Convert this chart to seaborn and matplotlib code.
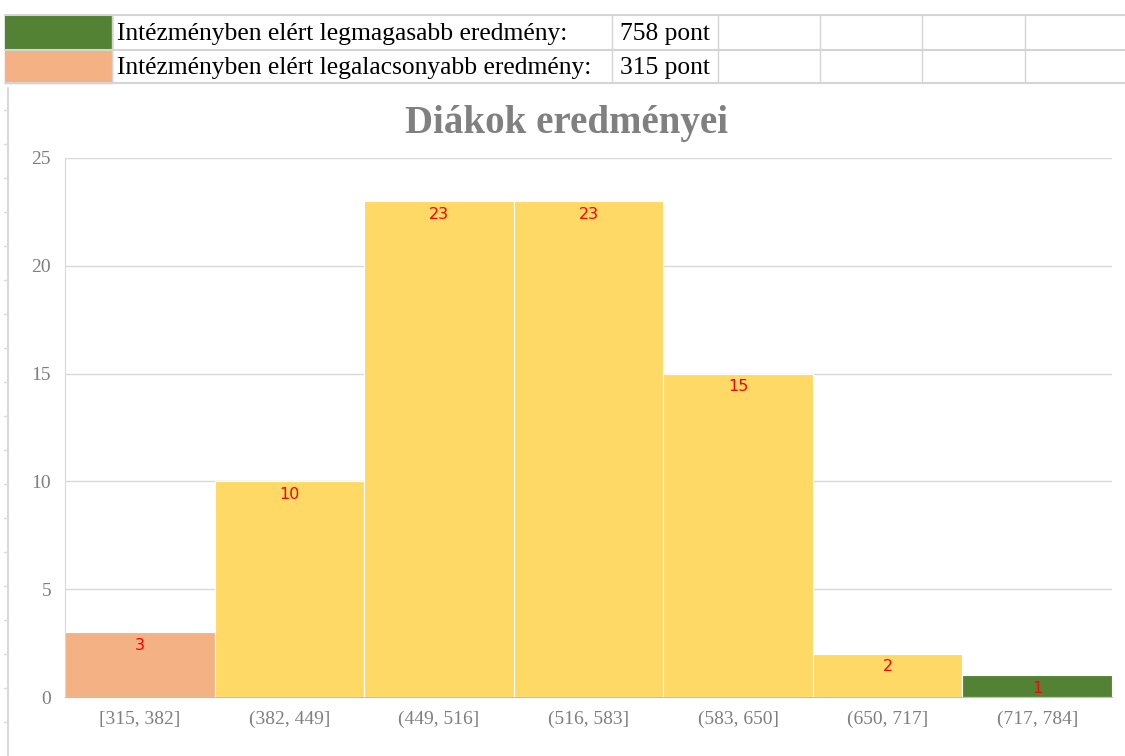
import matplotlib
matplotlib.use("Agg")
import matplotlib.pyplot as plt
import seaborn as sns
import pandas as pd

bins = ["[315, 382]", "(382, 449]", "(449, 516]", "(516, 583]",
        "(583, 650]", "(650, 717]", "(717, 784]"]
counts = [3, 10, 23, 23, 15, 2, 1]
kind = ["low", "mid", "mid", "mid", "mid", "mid", "high"]
row_labels = ["Intézményben elért legmagasabb eredmény:",
              "Intézményben elért legalacsonyabb eredmény:"]
row_values = ["758 pont", "315 pont"]

green = "#548235"
salmon = "#F4B183"
yellow = "#FFD966"
palette = {"low": salmon, "mid": yellow, "high": green}

df = pd.DataFrame({"bin": bins, "count": counts, "kind": kind})

sns.set_style("white")
plt.rcParams["font.family"] = ["Liberation Serif", "DejaVu Serif"]

W, H = 1125, 756
fig = plt.figure(figsize=(11.25, 7.56), dpi=100)

def fx(x):
    return x / W

def fy(y):
    return 1 - y / H

# spreadsheet part on top
grid_col = "#D4D4D4"
for y in [15, 50, 83]:
    fig.add_artist(plt.Line2D([fx(5), fx(1125)], [fy(y), fy(y)], color=grid_col, lw=1.5))
for x in [112, 612, 718, 820, 922, 1025]:
    fig.add_artist(plt.Line2D([fx(x), fx(x)], [fy(15), fy(83)], color=grid_col, lw=1))
fig.add_artist(plt.Rectangle((fx(5), fy(50)), fx(107), 35 / H, color=green))
fig.add_artist(plt.Rectangle((fx(5), fy(83)), fx(107), 32 / H, color=salmon))
for i, (lab, val) in enumerate(zip(row_labels, row_values)):
    yy = fy(34 + i * 34)
    fig.text(fx(117), yy, lab, fontsize=18.4, va="center", color="black")
    fig.text(fx(620), yy, val, fontsize=18.4, va="center", color="black")

# chart frame line at the left
fig.add_artist(plt.Line2D([fx(8), fx(8)], [fy(88), 0], color="#D9D9D9", lw=1.5))
for y in range(110, 756, 34):
    fig.add_artist(plt.Line2D([fx(4), fx(8)], [fy(y), fy(y)], color="#D9D9D9", lw=1))

ax = fig.add_axes([fx(65), fy(697), fx(1112 - 65), (697 - 158) / H])
sns.barplot(data=df, x="bin", y="count", hue="kind", palette=palette,
            width=1.0, dodge=False, legend=False, saturation=1,
            edgecolor="white", linewidth=0.8, ax=ax)

for i, c in enumerate(counts):
    ax.text(i, c - 0.25, str(c), ha="center", va="top", color="red",
            fontsize=11.5, family=["DejaVu Sans"])

ax.set_ylim(0, 25)
ax.set_xlim(-0.5, len(bins) - 0.5)
ax.set_yticks([0, 5, 10, 15, 20, 25])
ax.yaxis.grid(True, color="#D9D9D9", lw=1)
ax.set_axisbelow(True)
for s in ["top", "right"]:
    ax.spines[s].set_visible(False)
ax.spines["left"].set_color("#D9D9D9")
ax.spines["bottom"].set_color("#BFBFBF")
ax.tick_params(axis="both", length=0, colors="#7F7F7F", labelsize=14)
ax.tick_params(axis="y", pad=10)
ax.tick_params(axis="x", pad=10)
ax.set_xlabel("")
ax.set_ylabel("")

fig.text(fx(567), fy(123), "Diákok eredményei", ha="center", va="center",
         fontsize=28, fontweight="bold", color="#808080")

fig.savefig("out.png", dpi=100)
